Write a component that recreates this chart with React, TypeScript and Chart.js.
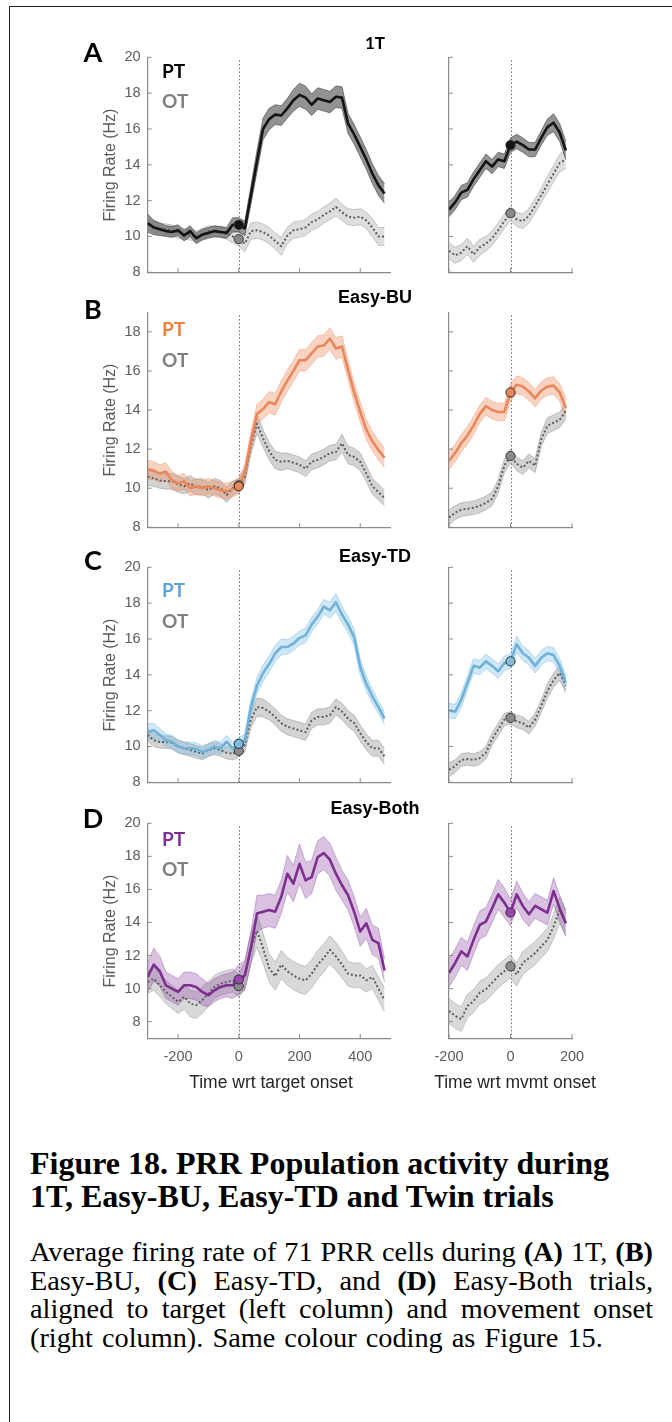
import React, { useEffect, useRef } from "react";
import { Chart, registerables } from "chart.js";

Chart.register(...registerables);

// ---------------- data ----------------
const T_TARGET = [-300, -280, -260, -240, -220, -200, -180, -160, -140, -120, -100, -80, -60, -40, -20, 0, 20, 40, 60, 80, 100, 120, 140, 160, 180, 200, 220, 240, 260, 280, 300, 320, 340, 360, 380, 400, 420, 440, 460, 480];
const T_MVMT = [-200, -180, -160, -140, -120, -100, -80, -60, -40, -20, 0, 20, 40, 60, 80, 100, 120, 140, 160, 180];

const X_TICKS_TARGET = [-200, 0, 200, 400];
const X_TICKS_MVMT = [-200, 0, 200];
const Y_TICKS_20 = [8, 10, 12, 14, 16, 18, 20];
const Y_TICKS_18 = [8, 10, 12, 14, 16, 18];

// Panel A (1T)
const A_PT_TGT = [10.75, 10.5, 10.4, 10.3, 10.25, 10.35, 10.05, 10.3, 9.9, 10.1, 10.2, 10.3, 10.25, 10.2, 10.65, 10.65, 10.45, 12.3, 14.2, 16.0, 16.55, 16.8, 16.75, 17.15, 17.6, 17.9, 17.75, 17.35, 17.7, 17.6, 17.5, 17.8, 17.75, 16.3, 15.7, 15.0, 14.3, 13.5, 12.85, 12.4];
const A_PT_TGT_SEM = [0.5, 0.4, 0.35, 0.3, 0.3, 0.3, 0.3, 0.3, 0.3, 0.3, 0.3, 0.3, 0.3, 0.3, 0.4, 0.4, 0.4, 0.5, 0.6, 0.6, 0.6, 0.55, 0.55, 0.55, 0.6, 0.65, 0.65, 0.6, 0.6, 0.6, 0.6, 0.6, 0.6, 0.55, 0.55, 0.55, 0.55, 0.55, 0.55, 0.55];
const A_OT_TGT = [10.7, 10.55, 10.45, 10.4, 10.35, 10.2, 10.15, 10.1, 10.0, 10.15, 10.3, 10.25, 10.25, 10.15, 10.0, 9.85, 9.6, 10.3, 10.35, 10.25, 10.05, 9.75, 9.45, 10.05, 10.35, 10.4, 10.5, 10.8, 10.95, 11.2, 11.4, 11.65, 11.35, 11.1, 11.05, 11.1, 10.9, 10.5, 10.0, 10.0];
const A_OT_TGT_SEM = [0.3, 0.3, 0.3, 0.3, 0.3, 0.3, 0.3, 0.3, 0.3, 0.3, 0.3, 0.3, 0.3, 0.3, 0.35, 0.4, 0.45, 0.45, 0.45, 0.45, 0.45, 0.45, 0.5, 0.45, 0.45, 0.45, 0.45, 0.45, 0.45, 0.45, 0.45, 0.5, 0.45, 0.45, 0.45, 0.45, 0.45, 0.5, 0.5, 0.5];
const A_PT_MOV = [11.5, 11.9, 12.45, 12.6, 13.2, 13.7, 14.2, 13.9, 14.3, 14.2, 15.1, 15.3, 15.1, 14.85, 14.85, 15.5, 16.1, 16.35, 15.8, 14.8];
const A_PT_MOV_SEM = [0.4, 0.4, 0.4, 0.4, 0.4, 0.4, 0.4, 0.4, 0.4, 0.4, 0.4, 0.4, 0.4, 0.4, 0.4, 0.4, 0.45, 0.5, 0.5, 0.5];
const A_OT_MOV = [9.2, 8.95, 9.1, 9.45, 9.0, 9.4, 9.6, 9.9, 10.35, 10.85, 11.3, 10.95, 10.85, 11.15, 11.7, 12.3, 12.9, 13.5, 14.1, 14.3];
const A_OT_MOV_SEM = [0.45, 0.45, 0.45, 0.45, 0.45, 0.45, 0.4, 0.4, 0.4, 0.4, 0.4, 0.4, 0.4, 0.4, 0.4, 0.4, 0.45, 0.45, 0.5, 0.5];

// Panel B (Easy-BU)
const B_PT_TGT = [10.95, 10.9, 10.75, 10.85, 10.4, 10.25, 10.35, 10.0, 10.1, 10.0, 10.1, 10.0, 9.9, 9.85, 9.95, 10.1, 10.8, 12.4, 13.8, 14.05, 14.4, 14.3, 14.95, 15.5, 16.0, 16.55, 16.55, 16.9, 17.25, 17.3, 17.65, 17.15, 17.25, 16.05, 14.9, 13.9, 13.0, 12.4, 11.95, 11.55];
const B_PT_TGT_SEM = [0.5, 0.45, 0.45, 0.45, 0.45, 0.4, 0.4, 0.4, 0.4, 0.4, 0.4, 0.4, 0.4, 0.4, 0.4, 0.4, 0.4, 0.45, 0.5, 0.5, 0.55, 0.55, 0.55, 0.55, 0.55, 0.55, 0.55, 0.55, 0.55, 0.55, 0.55, 0.55, 0.55, 0.5, 0.5, 0.5, 0.5, 0.5, 0.5, 0.5];
const B_OT_TGT = [10.6, 10.5, 10.4, 10.35, 10.35, 10.2, 10.1, 10.25, 10.05, 10.1, 9.9, 10.1, 10.0, 9.65, 10.0, 10.15, 10.6, 12.2, 13.3, 12.55, 11.9, 11.45, 11.35, 11.4, 11.3, 11.2, 11.0, 11.35, 11.45, 11.6, 11.8, 11.85, 12.3, 11.7, 11.6, 11.35, 10.75, 10.1, 9.8, 9.5];
const B_OT_TGT_SEM = [0.45, 0.4, 0.4, 0.4, 0.4, 0.4, 0.4, 0.4, 0.4, 0.4, 0.4, 0.4, 0.4, 0.4, 0.35, 0.35, 0.4, 0.45, 0.5, 0.45, 0.45, 0.45, 0.45, 0.4, 0.4, 0.4, 0.4, 0.4, 0.4, 0.4, 0.4, 0.4, 0.45, 0.45, 0.45, 0.45, 0.4, 0.4, 0.4, 0.4];
const B_PT_MOV = [11.4, 11.8, 12.3, 12.7, 13.2, 13.8, 14.2, 14.0, 13.9, 13.9, 14.9, 15.3, 15.2, 14.95, 14.6, 15.0, 15.2, 15.25, 14.9, 14.1];
const B_PT_MOV_SEM = [0.45, 0.45, 0.45, 0.45, 0.45, 0.45, 0.45, 0.45, 0.45, 0.45, 0.45, 0.45, 0.45, 0.45, 0.45, 0.45, 0.45, 0.45, 0.45, 0.5];
const B_OT_MOV = [8.5, 8.75, 8.9, 8.95, 9.0, 9.1, 9.25, 9.45, 10.1, 11.15, 11.65, 11.25, 11.05, 11.4, 11.15, 12.5, 13.2, 13.35, 13.5, 13.95];
const B_OT_MOV_SEM = [0.4, 0.35, 0.35, 0.35, 0.35, 0.35, 0.35, 0.35, 0.35, 0.35, 0.35, 0.35, 0.35, 0.35, 0.35, 0.35, 0.4, 0.4, 0.4, 0.4];

// Panel C (Easy-TD)
const C_PT_TGT = [10.8, 10.9, 10.65, 10.35, 10.27, 10.0, 9.9, 9.9, 9.85, 9.7, 9.8, 10.0, 9.9, 10.27, 9.9, 10.15, 10.35, 12.2, 13.4, 14.1, 14.6, 15.2, 15.55, 15.55, 15.75, 16.05, 16.2, 16.8, 17.25, 17.8, 17.6, 18.05, 17.35, 16.8, 16.1, 14.45, 13.5, 12.8, 12.2, 11.55];
const C_PT_TGT_SEM = [0.45, 0.4, 0.35, 0.35, 0.35, 0.35, 0.35, 0.35, 0.35, 0.35, 0.35, 0.35, 0.35, 0.35, 0.35, 0.35, 0.35, 0.4, 0.45, 0.45, 0.45, 0.45, 0.45, 0.4, 0.4, 0.4, 0.4, 0.4, 0.4, 0.4, 0.45, 0.5, 0.45, 0.45, 0.45, 0.45, 0.4, 0.4, 0.35, 0.35];
const C_OT_TGT = [10.65, 10.35, 10.25, 10.25, 10.2, 10.0, 9.9, 9.8, 9.7, 9.6, 9.8, 9.9, 9.8, 9.65, 9.6, 9.75, 10.1, 11.5, 12.2, 12.15, 11.95, 11.65, 11.3, 11.1, 11.0, 10.9, 10.8, 11.45, 11.65, 11.65, 11.75, 12.2, 11.95, 11.55, 11.3, 10.75, 10.25, 9.9, 9.9, 9.45];
const C_OT_TGT_SEM = [0.35, 0.35, 0.35, 0.35, 0.35, 0.35, 0.35, 0.35, 0.35, 0.35, 0.35, 0.35, 0.35, 0.35, 0.35, 0.35, 0.4, 0.45, 0.5, 0.5, 0.45, 0.45, 0.45, 0.45, 0.45, 0.45, 0.45, 0.45, 0.45, 0.45, 0.45, 0.45, 0.45, 0.45, 0.45, 0.45, 0.45, 0.45, 0.45, 0.45];
const C_PT_MOV = [12.0, 11.95, 12.6, 13.55, 14.5, 14.4, 14.75, 14.5, 14.2, 14.65, 14.75, 15.7, 15.2, 14.95, 14.5, 14.95, 15.2, 15.1, 14.5, 13.55];
const C_PT_MOV_SEM = [0.4, 0.4, 0.4, 0.4, 0.4, 0.4, 0.4, 0.4, 0.4, 0.4, 0.4, 0.45, 0.4, 0.4, 0.4, 0.4, 0.4, 0.4, 0.4, 0.4];
const C_OT_MOV = [8.7, 8.9, 9.25, 9.3, 9.25, 9.35, 9.65, 10.4, 10.95, 11.5, 11.6, 11.4, 11.3, 11.05, 11.5, 12.25, 13.1, 13.7, 14.1, 13.4];
const C_OT_MOV_SEM = [0.4, 0.35, 0.35, 0.35, 0.35, 0.35, 0.35, 0.35, 0.35, 0.35, 0.35, 0.35, 0.35, 0.35, 0.35, 0.35, 0.4, 0.4, 0.4, 0.4];

// Panel D (Easy-Both)
const D_PT_TGT = [10.7, 11.45, 11.05, 10.2, 10.0, 9.8, 10.2, 10.2, 10.1, 9.8, 9.6, 9.9, 10.1, 10.2, 10.2, 10.55, 10.8, 12.45, 14.55, 14.65, 14.75, 14.65, 15.55, 16.95, 16.35, 17.55, 16.55, 16.75, 17.95, 18.2, 17.8, 16.95, 16.25, 15.65, 14.65, 13.45, 13.95, 12.95, 12.75, 11.1];
const D_PT_TGT_SEM = [0.9, 1.0, 0.9, 0.8, 0.8, 0.8, 0.8, 0.8, 0.8, 0.8, 0.7, 0.7, 0.7, 0.7, 0.8, 0.9, 0.9, 1.0, 1.1, 1.0, 1.0, 1.0, 1.0, 1.1, 1.1, 1.2, 1.1, 1.0, 1.0, 1.0, 1.0, 1.0, 0.9, 0.9, 0.9, 0.9, 0.9, 0.9, 0.9, 0.7];
const D_OT_TGT = [10.4, 10.6, 10.2, 9.8, 9.5, 9.2, 9.5, 9.1, 9.0, 9.3, 9.7, 10.1, 10.3, 10.4, 10.5, 10.15, 10.8, 12.45, 13.5, 12.45, 11.25, 10.75, 11.45, 11.05, 10.8, 10.6, 10.5, 10.9, 11.45, 11.85, 12.35, 11.95, 11.45, 10.9, 10.8, 10.8, 10.5, 10.7, 10.0, 9.3];
const D_OT_TGT_SEM = [0.7, 0.7, 0.7, 0.7, 0.7, 0.7, 0.75, 0.8, 0.8, 0.8, 0.75, 0.7, 0.7, 0.7, 0.7, 0.7, 0.8, 0.9, 1.0, 0.9, 0.85, 0.85, 0.85, 0.85, 0.85, 0.85, 0.85, 0.85, 0.85, 0.85, 0.85, 0.85, 0.8, 0.75, 0.75, 0.75, 0.7, 0.7, 0.7, 0.7];
const D_PT_MOV = [10.95, 11.55, 12.25, 11.95, 12.95, 13.85, 14.05, 14.85, 15.7, 15.2, 14.6, 15.7, 15.0, 14.5, 15.0, 14.8, 14.6, 15.9, 14.85, 13.95];
const D_PT_MOV_SEM = [0.85, 0.85, 0.85, 0.85, 0.85, 0.85, 0.85, 0.85, 0.9, 0.9, 0.8, 0.8, 0.8, 0.75, 0.75, 0.75, 0.75, 0.8, 0.8, 0.75];
const D_OT_MOV = [8.65, 8.35, 8.15, 8.95, 9.25, 9.75, 9.95, 10.35, 10.75, 11.05, 11.35, 10.85, 11.55, 11.85, 12.15, 12.55, 12.95, 13.75, 14.75, 13.95];
const D_OT_MOV_SEM = [0.75, 0.75, 0.75, 0.7, 0.7, 0.7, 0.7, 0.7, 0.7, 0.7, 0.7, 0.7, 0.7, 0.7, 0.7, 0.7, 0.7, 0.75, 0.8, 0.8];

const PANEL_LETTERS = ["A", "B", "C", "D"];
const PANEL_TITLES = ["1T", "Easy-BU", "Easy-TD", "Easy-Both"];
const X_TITLES = ["Time wrt target onset", "Time wrt mvmt onset"];
const Y_TITLE = "Firing Rate (Hz)";

// ---------------- styles ----------------
const SANS = "'Liberation Sans', Arial, Helvetica, sans-serif";
const LABEL_FONT = "Lato, 'Open Sans', sans-serif";
const SERIF = "'Liberation Serif', 'Times New Roman', serif";
const AXIS_COLOR = "#8a8a8a";
const TICK_COLOR = "#5c5c5c";
const ZERO_COLOR = "#6a6a6a";
const OT_LINE = "#5e5e5e";

type Style = {
  pt: string; ptBand: string; ptEdge: string; ptDot: string; ptLabel: string;
  otBand: string; otEdge: string;
};
const STYLES: Style[] = [
  { pt: "#141414", ptBand: "rgba(105,105,105,0.72)", ptEdge: "rgba(70,70,70,0.8)", ptDot: "#141414", ptLabel: "#000000", otBand: "rgba(190,190,190,0.5)", otEdge: "rgba(160,160,160,0.7)" },
  { pt: "#E9875A", ptBand: "rgba(240,140,95,0.38)", ptEdge: "rgba(235,140,100,0.55)", ptDot: "#E9875A", ptLabel: "#F07F3A", otBand: "rgba(150,150,150,0.42)", otEdge: "rgba(120,120,120,0.5)" },
  { pt: "#6FB2D9", ptBand: "rgba(120,190,230,0.35)", ptEdge: "rgba(110,180,220,0.55)", ptDot: "#7FBCE0", ptLabel: "#5FA3DB", otBand: "rgba(150,150,150,0.42)", otEdge: "rgba(120,120,120,0.5)" },
  { pt: "#7D2E8F", ptBand: "rgba(140,70,160,0.33)", ptEdge: "rgba(130,60,150,0.45)", ptDot: "#9A45AE", ptLabel: "#7B2D98", otBand: "rgba(165,165,165,0.42)", otEdge: "rgba(120,120,120,0.45)" },
];

type Series = { pt: number[]; ptSem: number[]; ot: number[]; otSem: number[] };
const SERIES: { tgt: Series; mov: Series }[] = [
  { tgt: { pt: A_PT_TGT, ptSem: A_PT_TGT_SEM, ot: A_OT_TGT, otSem: A_OT_TGT_SEM }, mov: { pt: A_PT_MOV, ptSem: A_PT_MOV_SEM, ot: A_OT_MOV, otSem: A_OT_MOV_SEM } },
  { tgt: { pt: B_PT_TGT, ptSem: B_PT_TGT_SEM, ot: B_OT_TGT, otSem: B_OT_TGT_SEM }, mov: { pt: B_PT_MOV, ptSem: B_PT_MOV_SEM, ot: B_OT_MOV, otSem: B_OT_MOV_SEM } },
  { tgt: { pt: C_PT_TGT, ptSem: C_PT_TGT_SEM, ot: C_OT_TGT, otSem: C_OT_TGT_SEM }, mov: { pt: C_PT_MOV, ptSem: C_PT_MOV_SEM, ot: C_OT_MOV, otSem: C_OT_MOV_SEM } },
  { tgt: { pt: D_PT_TGT, ptSem: D_PT_TGT_SEM, ot: D_OT_TGT, otSem: D_OT_TGT_SEM }, mov: { pt: D_PT_MOV, ptSem: D_PT_MOV_SEM, ot: D_OT_MOV, otSem: D_OT_MOV_SEM } },
];

// layout of each row (plot area top/bottom in page px) and y range
const ROWS = [
  { top: 57.3, bottom: 272.3, ymin: 8, ymax: 20, yt: Y_TICKS_20, letterY: 37.7, titleY: 34, ptY: 61, otY: 91 },
  { top: 312.3, bottom: 527.3, ymin: 8, ymax: 19, yt: Y_TICKS_18, letterY: 294.7, titleY: 287.9, ptY: 319, otY: 350 },
  { top: 567.3, bottom: 782.3, ymin: 8, ymax: 20, yt: Y_TICKS_20, letterY: 546.4, titleY: 546.9, ptY: 580, otY: 611 },
  { top: 823.3, bottom: 1038.2, ymin: 7, ymax: 20, yt: Y_TICKS_20, letterY: 804, titleY: 798.5, ptY: 829, otY: 859 },
];
const LEFT_AREA = { left: 147.65, right: 390.6, canvasLeft: 100, canvasWidth: 310 };
const RIGHT_AREA = { left: 449, right: 572, canvasLeft: 430, canvasWidth: 180 };

const decorPlugin = {
  id: "decor",
  beforeDatasetsDraw(chart: any) {
    const { ctx, chartArea: a, scales } = chart;
    const px = Math.round(scales.x.getPixelForValue(0)) + 0.5;
    ctx.save();
    ctx.strokeStyle = ZERO_COLOR;
    ctx.lineWidth = 1;
    ctx.setLineDash([1.5, 2.2]);
    ctx.beginPath();
    ctx.moveTo(px, a.top + 3);
    ctx.lineTo(px, a.bottom);
    ctx.stroke();
    ctx.restore();
  },
  afterDraw(chart: any) {
    const { ctx, chartArea: a, scales } = chart;
    const { x, y } = scales;
    ctx.save();
    ctx.strokeStyle = AXIS_COLOR;
    ctx.lineWidth = 1;
    ctx.beginPath();
    x.ticks.forEach((t: any) => {
      const p = x.getPixelForValue(t.value);
      ctx.moveTo(p, a.bottom);
      ctx.lineTo(p, a.bottom - 4);
    });
    y.ticks.forEach((t: any) => {
      const p = y.getPixelForValue(t.value);
      ctx.moveTo(a.left, p);
      ctx.lineTo(a.left + 4, p);
    });
    ctx.stroke();
    ctx.restore();
  },
};

type PlotSpec = {
  t: number[]; s: Series; st: Style; xmin: number; xmax: number; xt: number[];
  ymin: number; ymax: number; yt: number[]; showX: boolean; showY: boolean;
  cx: number; cy: number; cw: number; ch: number;
  padTop: number; padRight: number; yw: number; xh: number;
};

function makeSpec(row: number, side: "tgt" | "mov"): PlotSpec {
  const r = ROWS[row];
  const area = side === "tgt" ? LEFT_AREA : RIGHT_AREA;
  const cy = Math.floor(r.top) - 12;
  const ch = Math.ceil(r.bottom) + 30 - cy;
  return {
    t: side === "tgt" ? T_TARGET : T_MVMT,
    s: SERIES[row][side],
    st: STYLES[row],
    xmin: side === "tgt" ? -300 : -200,
    xmax: side === "tgt" ? 500 : 200,
    xt: side === "tgt" ? X_TICKS_TARGET : X_TICKS_MVMT,
    ymin: r.ymin, ymax: r.ymax, yt: r.yt,
    showX: row === 3, showY: side === "tgt",
    cx: area.canvasLeft, cy, cw: area.canvasWidth, ch,
    padTop: r.top - cy,
    padRight: area.canvasLeft + area.canvasWidth - area.right,
    yw: area.left - area.canvasLeft,
    xh: cy + ch - r.bottom,
  };
}

function buildConfig(p: PlotSpec): any {
  const pts = (ys: number[]) => p.t.map((t, i) => ({ x: t, y: ys[i] }));
  const lo = (m: number[], e: number[]) => m.map((v, i) => v - e[i]);
  const hi = (m: number[], e: number[]) => m.map((v, i) => v + e[i]);
  const i0 = p.t.indexOf(0);
  const base = { pointRadius: 0, tension: 0, borderJoinStyle: "round" };
  return {
    type: "line",
    data: {
      datasets: [
        { ...base, data: pts(lo(p.s.ot, p.s.otSem)), borderColor: p.st.otEdge, borderWidth: 0.8, fill: false, order: 5 },
        { ...base, data: pts(hi(p.s.ot, p.s.otSem)), borderColor: p.st.otEdge, borderWidth: 0.8, fill: "-1", backgroundColor: p.st.otBand, order: 5 },
        { ...base, data: pts(lo(p.s.pt, p.s.ptSem)), borderColor: p.st.ptEdge, borderWidth: 0.8, fill: false, order: 4 },
        { ...base, data: pts(hi(p.s.pt, p.s.ptSem)), borderColor: p.st.ptEdge, borderWidth: 0.8, fill: "-1", backgroundColor: p.st.ptBand, order: 4 },
        { ...base, data: pts(p.s.ot), borderColor: OT_LINE, borderWidth: 2, borderDash: [2, 2.2], fill: false, order: 2 },
        { ...base, data: pts(p.s.pt), borderColor: p.st.pt, borderWidth: 2.6, fill: false, order: 1 },
        { data: [{ x: 0, y: p.s.pt[i0] }], showLine: false, pointRadius: 4.6, pointBackgroundColor: p.st.ptDot, pointBorderColor: "#2a2a2a", pointBorderWidth: 1, order: 0 },
        { data: [{ x: 0, y: p.s.ot[i0] }], showLine: false, pointRadius: 4.6, pointBackgroundColor: "#8a8a8a", pointBorderColor: "#3a3a3a", pointBorderWidth: 1, order: 0.5 },
      ],
    },
    options: {
      animation: false,
      responsive: false,
      devicePixelRatio: 1,
      events: [],
      layout: { padding: { left: 0, top: p.padTop, right: p.padRight, bottom: 0 } },
      plugins: { legend: { display: false }, tooltip: { enabled: false } },
      scales: {
        x: {
          type: "linear",
          min: p.xmin,
          max: p.xmax,
          afterBuildTicks: (s: any) => { s.ticks = p.xt.map((v) => ({ value: v })); },
          afterFit: (s: any) => { s.height = p.xh; s.paddingLeft = 0; s.paddingRight = 0; },
          grid: { drawOnChartArea: false, drawTicks: false },
          border: { color: AXIS_COLOR, width: 1.2 },
          ticks: { display: p.showX, padding: 10, color: TICK_COLOR, font: { family: SANS, size: 14.5 }, maxRotation: 0, autoSkip: false },
        },
        y: {
          type: "linear",
          min: p.ymin,
          max: p.ymax,
          afterBuildTicks: (s: any) => { s.ticks = p.yt.map((v) => ({ value: v })); },
          afterFit: (s: any) => { s.width = p.yw; s.paddingTop = 0; s.paddingBottom = 0; },
          grid: { drawOnChartArea: false, drawTicks: false },
          border: { color: AXIS_COLOR, width: 1.2 },
          ticks: { display: p.showY, padding: 7, color: TICK_COLOR, font: { family: SANS, size: 14.5 }, autoSkip: false },
        },
      },
    },
    plugins: [decorPlugin],
  };
}

function Plot({ spec }: { spec: PlotSpec }) {
  const ref = useRef<HTMLCanvasElement | null>(null);
  useEffect(() => {
    if (!ref.current) return;
    const chart = new Chart(ref.current, buildConfig(spec));
    return () => chart.destroy();
  }, []);
  return (
    <canvas
      ref={ref}
      width={spec.cw}
      height={spec.ch}
      style={{ position: "absolute", left: spec.cx, top: spec.cy, width: spec.cw, height: spec.ch }}
    />
  );
}

const abs = (extra: React.CSSProperties): React.CSSProperties => ({ position: "absolute", whiteSpace: "nowrap", margin: 0, ...extra });

export default function App() {
  const specs: PlotSpec[] = [];
  ROWS.forEach((_, i) => { specs.push(makeSpec(i, "tgt")); specs.push(makeSpec(i, "mov")); });
  const bodyLine = (top: number, justify: boolean): React.CSSProperties =>
    abs(justify
      ? { left: 30, top, width: 623, textAlign: "justify", textAlignLast: "justify", font: `400 28.3px/28.3px ${SERIF}`, color: "#000" }
      : { left: 30, top, font: `400 28.3px/28.3px ${SERIF}`, color: "#000", wordSpacing: "2px" });
  return (
    <div style={{ position: "absolute", left: 0, top: 0, width: 672, height: 1422, overflow: "hidden", background: "#ffffff" }}>
      <div style={{ position: "absolute", left: 8.5, top: 5.5, right: -2, bottom: -2, borderLeft: "1.5px solid #1e1e1e", borderTop: "1.5px solid #1e1e1e" }} />
      {specs.map((s, i) => <Plot key={i} spec={s} />)}
      {ROWS.map((r, i) => (
        <React.Fragment key={"row" + i}>
          <div style={abs({ left: 73, top: r.letterY, width: 40, textAlign: "center", font: `700 27px/27px ${LABEL_FONT}`, color: "#000" })}>{PANEL_LETTERS[i]}</div>
          <div style={abs({ left: 275, top: r.titleY, width: 200, textAlign: "center", font: i === 0 ? `700 17px/17px ${LABEL_FONT}` : `700 18px/18px ${SANS}`, color: "#000" })}>{PANEL_TITLES[i]}</div>
          <div style={abs({ left: 162, top: r.ptY, font: `700 19px/19px ${LABEL_FONT}`, color: STYLES[i].ptLabel })}>PT</div>
          <div style={abs({ left: 162, top: r.otY, font: `700 19px/19px ${LABEL_FONT}`, color: "#808080" })}>OT</div>
          <div style={abs({ left: 109.5 - 80, top: (r.top + r.bottom) / 2 - 8, width: 160, height: 16, textAlign: "center", font: `400 16px/16px ${SANS}`, color: "#595959", transform: "rotate(-90deg)" })}>{Y_TITLE}</div>
        </React.Fragment>
      ))}
      <div style={abs({ left: 271 - 120, top: 1074.2, width: 240, textAlign: "center", font: `400 17.5px/17.5px ${SANS}`, color: "#262626" })}>{X_TITLES[0]}</div>
      <div style={abs({ left: 515 - 120, top: 1074.2, width: 240, textAlign: "center", font: `400 17.5px/17.5px ${SANS}`, color: "#262626" })}>{X_TITLES[1]}</div>

      <div style={abs({ left: 30, top: 1147, font: `700 32px/32px ${SERIF}`, color: "#000" })}>Figure 18. PRR Population activity during</div>
      <div style={abs({ left: 30, top: 1180, font: `700 32px/32px ${SERIF}`, color: "#000" })}>1T, Easy-BU, Easy-TD and Twin trials</div>

      <div style={bodyLine(1238, true)}>
        Average firing rate of 71 PRR cells during <b>(A)</b> 1T, <b>(B)</b>
      </div>
      <div style={bodyLine(1266.5, true)}>
        Easy-BU, <b>(C)</b> Easy-TD, and <b>(D)</b> Easy-Both trials,
      </div>
      <div style={bodyLine(1295, true)}>
        aligned to target (left column) and movement onset
      </div>
      <div style={bodyLine(1323.5, false)}>
        (right column). Same colour coding as Figure 15.
      </div>
    </div>
  );
}
